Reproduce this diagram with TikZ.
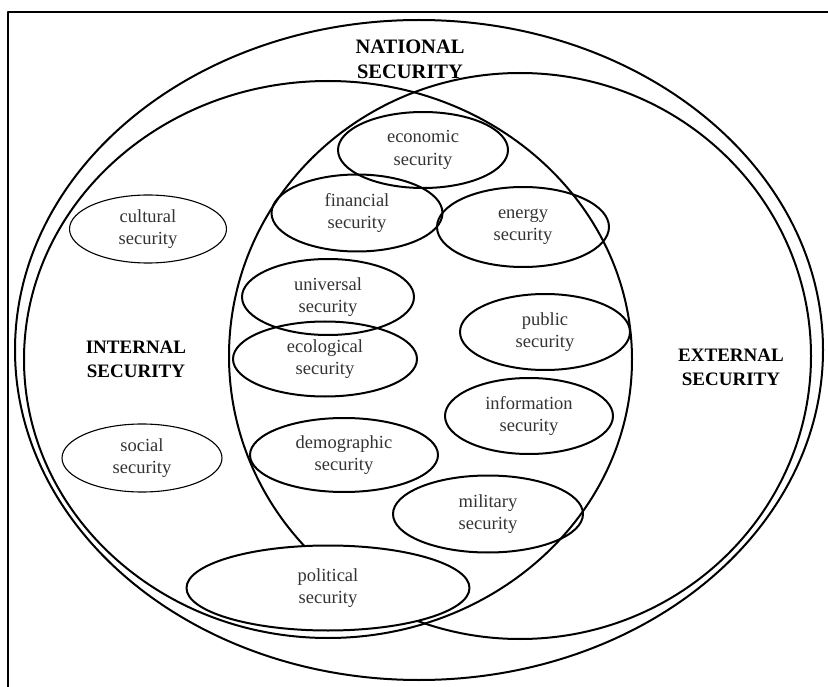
\documentclass[tikz,border=0pt]{standalone}
\usepackage{fontspec}
\setmainfont{Liberation Serif}
\usetikzlibrary{shapes.geometric}
\begin{document}
\begin{tikzpicture}[x=1pt, y=-1pt, line join=round, line cap=round,
	font=\fontsize{18.5}{22.5}\selectfont,
	sec/.style={draw, ellipse, line width=2pt, inner sep=0pt, align=center, text=black!80},
	thinsec/.style={sec, line width=1.1pt},
	title/.style={align=center, font=\fontsize{19}{24}\selectfont\bfseries}]
	\useasboundingbox (0,0) rectangle (828,687);
	\draw[line width=2.5pt] (8,687)--(8,12)--(828,12);
	% national, internal, external
	\draw[line width=2pt] (419,350) ellipse [x radius=404, y radius=330];
	\draw[line width=2pt] (328,359.5) ellipse [x radius=304, y radius=278.5];
	\draw[line width=2pt] (520,356) ellipse [x radius=291, y radius=283];
	\node[title, font=\fontsize{20.5}{25}\selectfont\bfseries] (national) at (410,59) {NATIONAL\\SECURITY};
	\node[title] (internal) at (136,359) {INTERNAL\\SECURITY};
	\node[title] (external) at (731,367) {EXTERNAL\\SECURITY};
	% kinds of security
	\node[sec, minimum width=170, minimum height=76] (economic) at (423,150) {economic\\security};
	\node[sec, minimum width=171, minimum height=77] (financial) at (357,213) {financial\\security};
	\node[sec, minimum width=172, minimum height=80] (energy) at (523,227) {energy\\security};
	\node[sec, minimum width=172, minimum height=76] (universal) at (328,297) {universal\\security};
	\node[sec, minimum width=184, minimum height=75] (ecological) at (325,359) {ecological\\security};
	\node[sec, minimum width=170, minimum height=76] (public) at (545,332) {public\\security};
	\node[sec, minimum width=168, minimum height=76] (information) at (529,416) {information\\security};
	\node[sec, minimum width=188, minimum height=74] (demographic) at (344,455) {demographic\\security};
	\node[sec, minimum width=190, minimum height=77] (military) at (488,514) {military\\security};
	\node[sec, fill=white, minimum width=283, minimum height=85] (political) at (328,588) {political\\security};
	\node[thinsec, minimum width=157, minimum height=68] (cultural) at (148,229) {cultural\\security};
	\node[thinsec, minimum width=160, minimum height=68] (social) at (142,458) {social\\security};
\end{tikzpicture}
\end{document}
